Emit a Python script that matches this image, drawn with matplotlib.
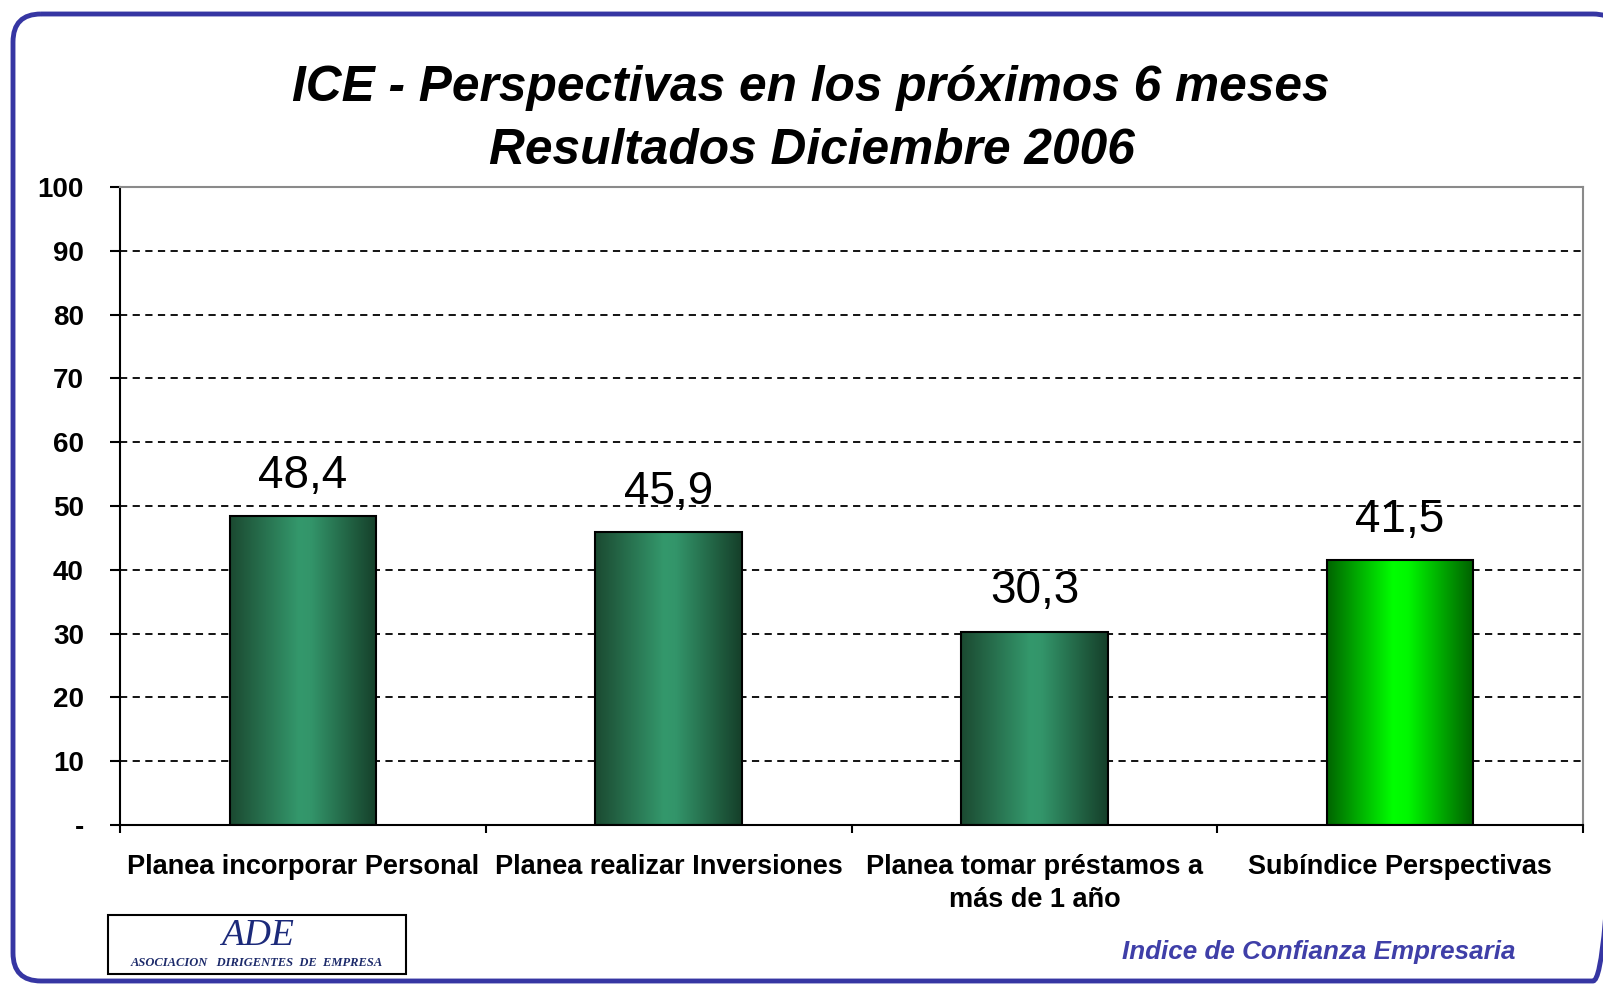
import numpy as np
import matplotlib
matplotlib.use("Agg")
import matplotlib.pyplot as plt
from matplotlib.patches import FancyBboxPatch, Rectangle
from matplotlib.colors import LinearSegmentedColormap

# ---- data ----
categories = ["Planea incorporar Personal", "Planea realizar Inversiones",
              "Planea tomar préstamos a\nmás de 1 año", "Subíndice Perspectivas"]
values = [48.4, 45.9, 30.3, 41.5]
value_labels = ["48,4", "45,9", "30,3", "41,5"]
ytick_vals = [0, 10, 20, 30, 40, 50, 60, 70, 80, 90, 100]
ytick_labels = ["-", "10", "20", "30", "40", "50", "60", "70", "80", "90", "100"]
title_lines = ["ICE - Perspectivas en los próximos 6 meses", "Resultados Diciembre 2006"]
footer = "Indice de Confianza Empresaria"

W, H = 1603, 985
plt.rcParams['font.family'] = ['Liberation Sans', 'DejaVu Sans']
fig = plt.figure(figsize=(W / 100, H / 100), dpi=100, facecolor='white')

# background axes in pixel coordinates
bg = fig.add_axes([0, 0, 1, 1])
bg.set_xlim(0, W)
bg.set_ylim(H, 0)
bg.axis('off')
border = FancyBboxPatch((13, 14), 1608, 967, boxstyle="round,pad=0,rounding_size=28",
                        fill=False, edgecolor='#3636a3', linewidth=3.5)
bg.add_patch(border)

# titles
bg.text(811, 88, title_lines[0], ha='center', va='center', fontsize=35.7,
        fontweight='bold', fontstyle='italic', color='black')
bg.text(812, 151, title_lines[1], ha='center', va='center', fontsize=35.7,
        fontweight='bold', fontstyle='italic', color='black')

# footer text
bg.text(1319, 952, footer, ha='center', va='center', fontsize=18.7,
        fontstyle='italic', fontweight='bold', color='#3f3fa8')

# logo
bg.add_patch(Rectangle((108, 915), 298, 59, facecolor='white', edgecolor='black', linewidth=1.5))
bg.text(257, 936, "ADE", ha='center', va='center', fontsize=27, fontstyle='italic',
        family=['Liberation Serif'], color='#1c2a7a')
bg.text(257, 963, "ASOCIACION   DIRIGENTES  DE  EMPRESA", ha='center', va='center',
        fontsize=9, fontstyle='italic', fontweight='bold', family=['Liberation Serif'],
        color='#1c2a6a')

# main axes
left, right, top, bottom = 120, 1583, 187, 825
ax = fig.add_axes([left / W, 1 - bottom / H, (right - left) / W, (bottom - top) / H])
ax.set_facecolor('white')
x = np.arange(len(categories))
bars = ax.bar(x, values, width=0.40, color='none', edgecolor='black', linewidth=1.5, zorder=3)

cm_dark = LinearSegmentedColormap.from_list('g1', [(0, '#1b4a31'), (0.47, '#34986c'),
                                                   (0.55, '#33956a'), (1, '#153f29')])
cm_bright = LinearSegmentedColormap.from_list('g2', [(0, '#006400'), (0.45, '#00ff00'),
                                                     (0.55, '#00f800'), (1, '#005f00')])
grad = np.linspace(0, 1, 256).reshape(1, -1)
for i, b in enumerate(bars):
    cmap = cm_bright if i == len(bars) - 1 else cm_dark
    x0, y0, w, h = b.get_x(), b.get_y(), b.get_width(), b.get_height()
    im = ax.imshow(grad, extent=[x0, x0 + w, y0, y0 + h], aspect='auto', cmap=cmap,
                   zorder=2, interpolation='bicubic')
    im.set_clip_path(b)

for xi, v, lab in zip(x, values, value_labels):
    ax.annotate(lab, (xi, v), xytext=(0, 29), textcoords='offset points',
                ha='center', va='center', fontsize=33, color='black', zorder=5)

ax.set_xlim(-0.5, len(categories) - 0.5)
ax.set_ylim(0, 100)
ax.set_yticks(ytick_vals)
ax.set_yticklabels(ytick_labels, fontsize=20, fontweight='bold')
ax.set_xticks(x)
ax.set_xticklabels(categories, fontsize=19.5, fontweight='bold', linespacing=1.33)
ax.set_xticks(np.arange(-0.5, len(categories), 1.0), minor=True)
ax.tick_params(axis='x', which='major', length=0, pad=21)
ax.tick_params(axis='x', which='minor', length=6, width=1.5, direction='out')
ax.tick_params(axis='y', which='major', length=7, width=1.5, direction='out', pad=19)

ax.yaxis.grid(True, linestyle=(0, (4, 3)), color='black', linewidth=1.3, zorder=1)
ax.set_axisbelow(True)
for s in ['left', 'bottom']:
    ax.spines[s].set_color('black')
    ax.spines[s].set_linewidth(1.5)
for s in ['top', 'right']:
    ax.spines[s].set_color('#8a8a8a')
    ax.spines[s].set_linewidth(1.5)

fig.savefig('out.png', dpi=100, facecolor='white')
